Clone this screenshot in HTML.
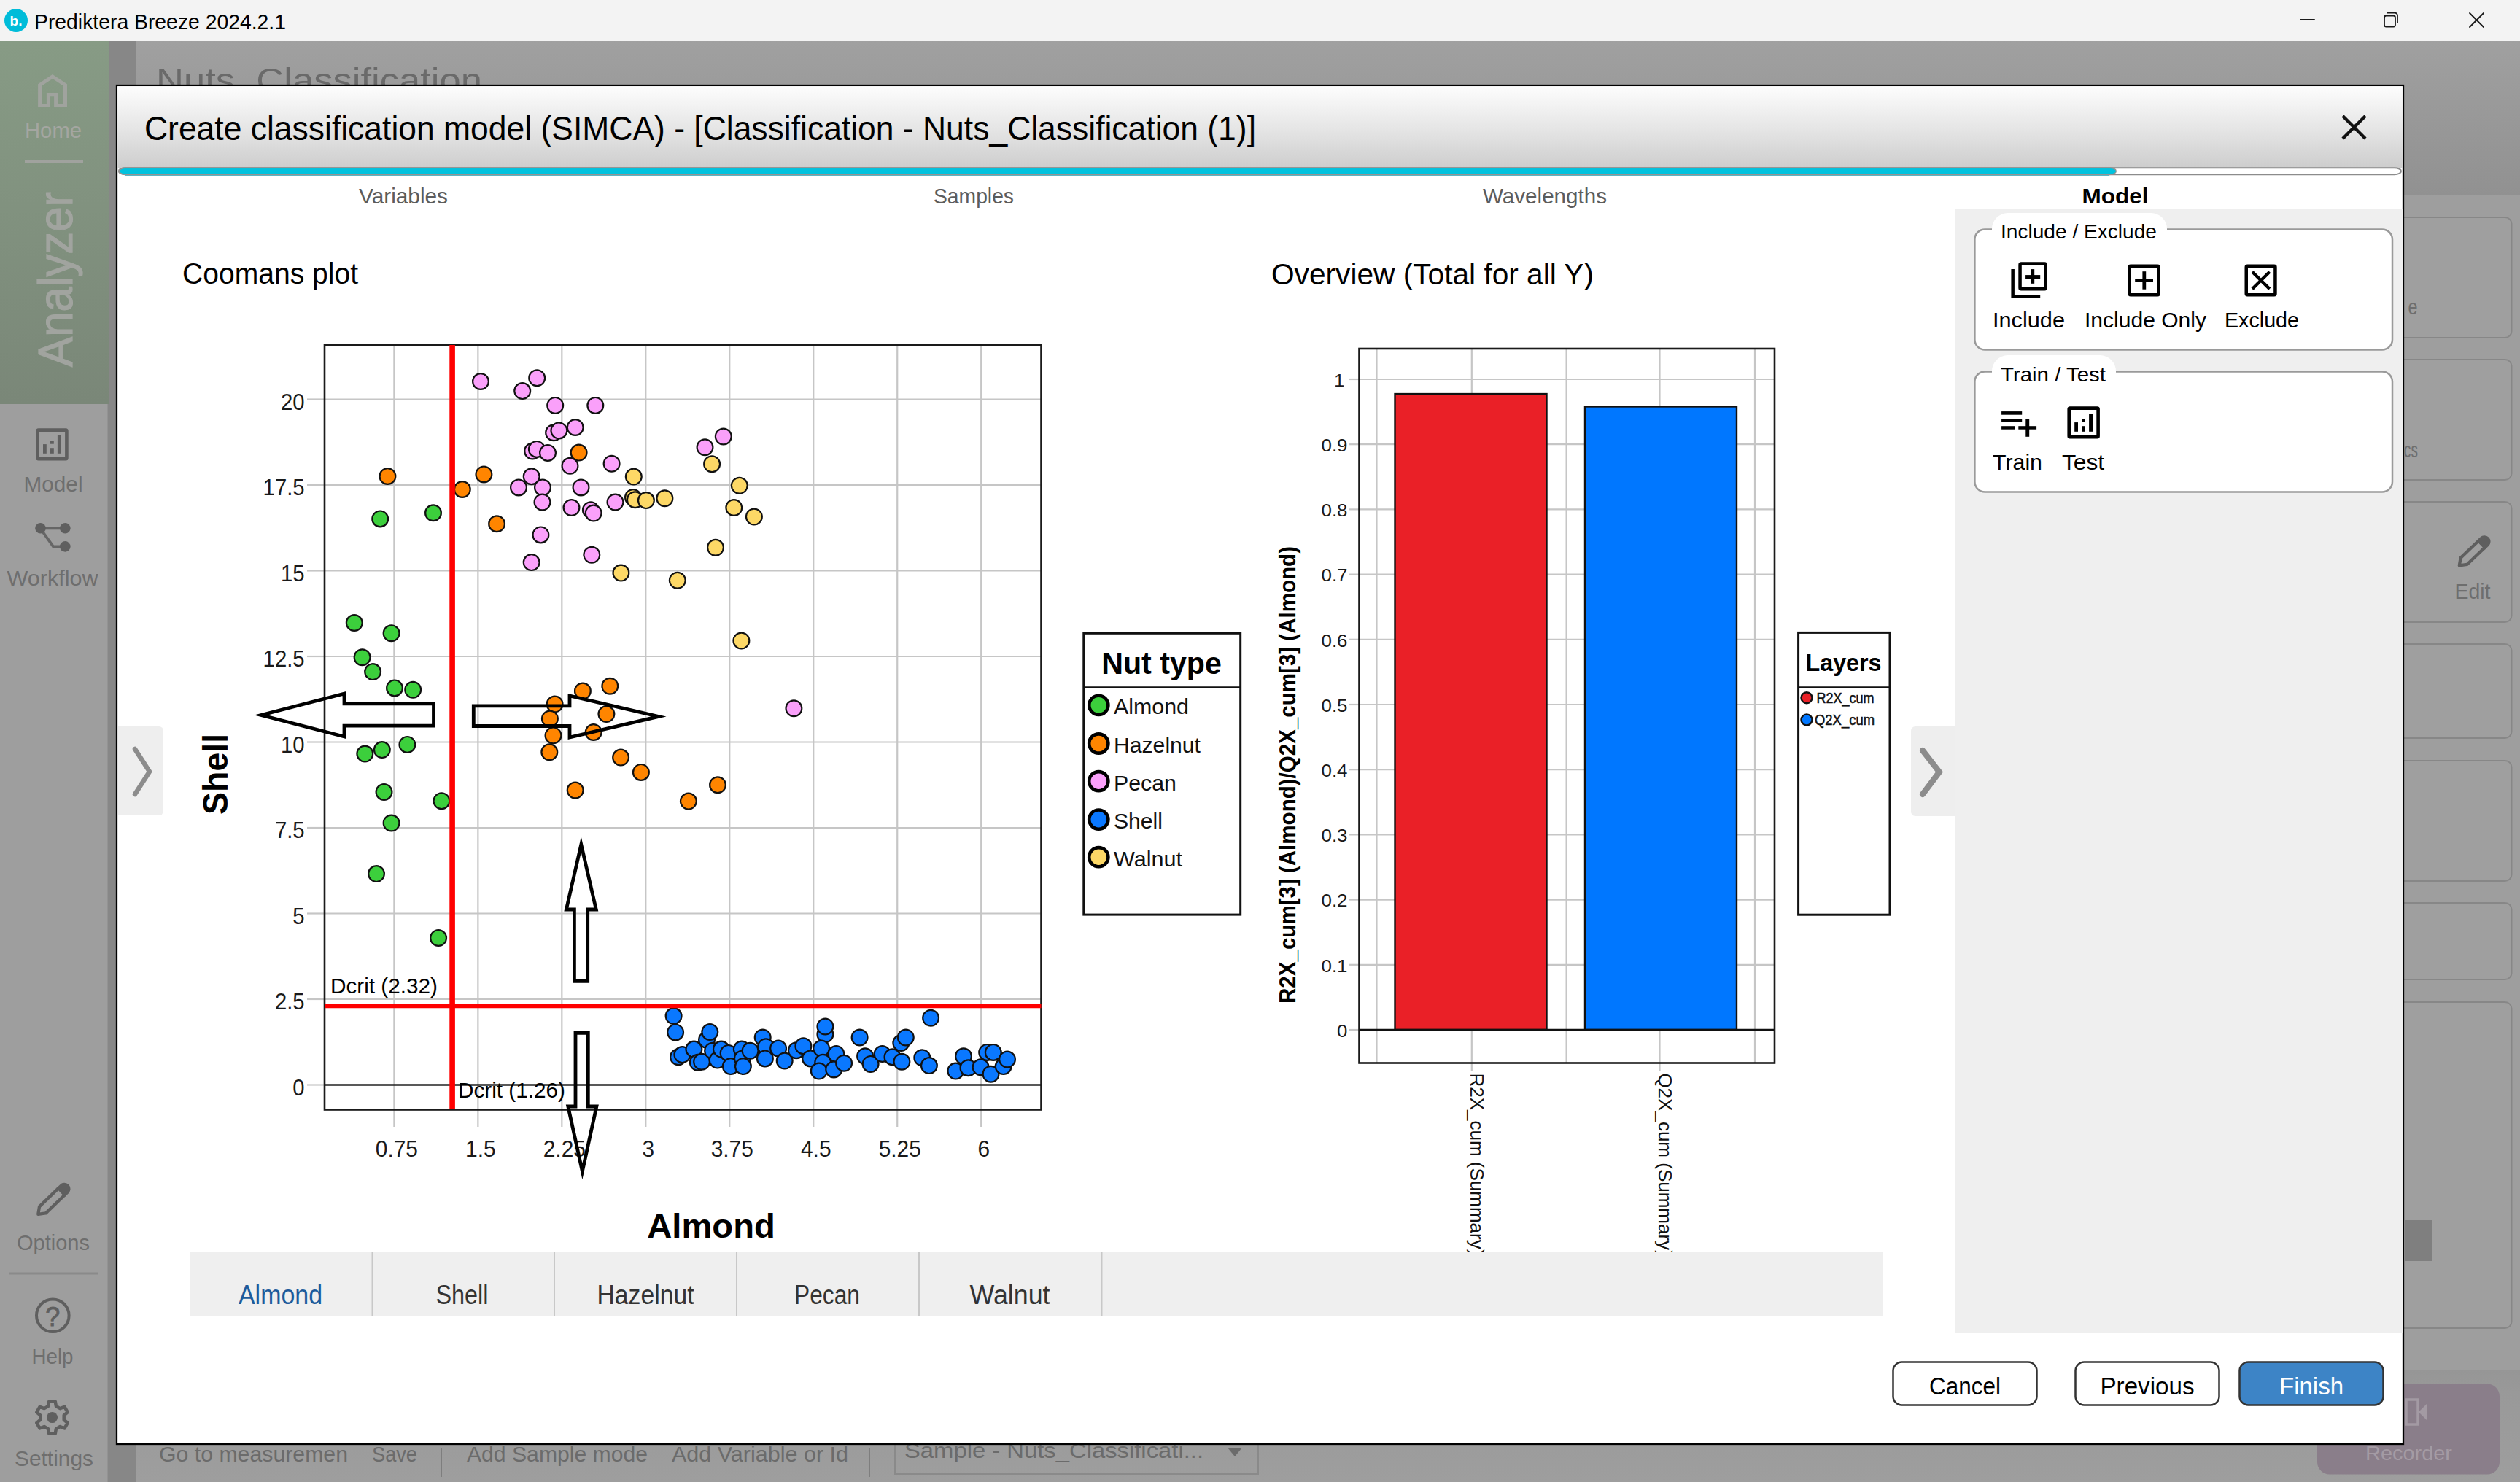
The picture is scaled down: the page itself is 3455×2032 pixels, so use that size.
<!DOCTYPE html>
<html lang="en"><head><meta charset="utf-8"><title>Prediktera Breeze 2024.2.1</title>
<style>
html,body{margin:0;padding:0;width:3455px;height:2032px;overflow:hidden;background:#9e9e9e;font-family:"Liberation Sans",sans-serif;}
#app{position:absolute;left:0;top:0;width:3455px;height:2032px;}
svg{position:absolute;left:0;top:0;display:block}
</style></head><body><div id="app">
<svg width="3455" height="2032" viewBox="0 0 3455 2032" font-family="Liberation Sans, sans-serif">
<defs>
<linearGradient id="side" x1="0" y1="0" x2="0" y2="1"><stop offset="0" stop-color="#879b85"/><stop offset="1" stop-color="#7a8778"/></linearGradient>
<linearGradient id="band" x1="0" y1="0" x2="0" y2="1"><stop offset="0" stop-color="#a0a0a0"/><stop offset="1" stop-color="#919191"/></linearGradient>
<linearGradient id="hdr" x1="0" y1="0" x2="0" y2="1"><stop offset="0" stop-color="#fdfdfd"/><stop offset="0.55" stop-color="#e4e4e4"/><stop offset="1" stop-color="#cdcdcd"/></linearGradient>
</defs>

<rect x="0" y="0" width="3455" height="2032" fill="#9e9e9e"/>
<rect x="186" y="56" width="3269" height="212" fill="url(#band)"/>
<rect x="0" y="0" width="3455" height="56" fill="#f3f3f3"/>
<circle cx="22" cy="28" r="16" fill="#00bcd9"/>
<text x="22" y="35" font-size="19" fill="#fff" font-weight="bold" text-anchor="middle">b.</text>
<text x="47" y="40" font-size="29.5" fill="#000" textLength="345" lengthAdjust="spacingAndGlyphs">Prediktera Breeze 2024.2.1</text>
<line x1="3154" y1="27" x2="3173" y2="27" stroke="#1a1a1a" stroke-width="2" stroke-linecap="round"/>
<rect x="3269" y="21.5" width="15" height="15" rx="2.5" fill="none" stroke="#1a1a1a" stroke-width="1.8"/>
<path d="M3273 17.5 h10 a4 4 0 0 1 4 4 v10" fill="none" stroke="#1a1a1a" stroke-width="1.8"/>
<line x1="3386" y1="18" x2="3405" y2="37" stroke="#1a1a1a" stroke-width="1.8" stroke-linecap="round"/>
<line x1="3405" y1="18" x2="3386" y2="37" stroke="#1a1a1a" stroke-width="1.8" stroke-linecap="round"/>
<rect x="0" y="554" width="149" height="1478" fill="#9e9e9e"/>
<rect x="147.5" y="56" width="39.5" height="1976" fill="#878787"/>
<rect x="0" y="56" width="149.2" height="498" fill="url(#side)"/>
<path d="M66.4 144.4 V129.8 H76.6 V144.4 H89.5 V116.5 L72 105 L54.6 116.5 V144.4 Z" fill="none" stroke="#a0a39e" stroke-width="5"/>
<text x="73" y="189" font-size="30" fill="#a4a6a1" text-anchor="middle" textLength="78" lengthAdjust="spacingAndGlyphs">Home</text>
<line x1="34" y1="221.5" x2="114" y2="221.5" stroke="#a0a29e" stroke-width="4.6" />
<text x="99" y="383" font-size="66" fill="#a1a49f" text-anchor="middle" textLength="240" lengthAdjust="spacingAndGlyphs" transform="rotate(-90 99 383)" stroke="#a1a49f" stroke-width="1.2">Analyzer</text>
<g transform="translate(-2785.2 30)"><rect x="2836.7" y="559.6" width="39.9" height="39.7" rx="1.2" fill="none" stroke="#5f5f5f" stroke-width="4.6"/><g fill="#5f5f5f"><rect x="2844.2" y="579.1" width="4.8" height="12.7"/><rect x="2854.1" y="574" width="4.9" height="4.7"/><rect x="2854.1" y="584.2" width="4.9" height="7.6"/><rect x="2864.1" y="567" width="4.9" height="24.8"/></g></g>
<text x="73" y="674" font-size="30" fill="#6e6e6e" text-anchor="middle" textLength="81" lengthAdjust="spacingAndGlyphs">Model</text>
<path d="M55.5 724.3 H89.3 M57 727 L73 749.4 H89.3" fill="none" stroke="#666" stroke-width="3.8"/><g fill="#5f5f5f"><circle cx="55.5" cy="724.3" r="7.3"/><circle cx="89.3" cy="724.3" r="7.3"/><circle cx="89.3" cy="749.4" r="7.3"/></g>
<text x="72" y="803" font-size="30" fill="#6e6e6e" text-anchor="middle" textLength="125" lengthAdjust="spacingAndGlyphs">Workflow</text>
<g transform="translate(50.5 1666.5) rotate(-43.96)"><path d="M2.5 0 L11 -6.3 L47.3 -6.3 L47.3 6.3 L11 6.3 Z" fill="none" stroke="#5f5f5f" stroke-width="4.3" stroke-linejoin="round"/><path d="M45.3 -8.4 L52.3 -8.4 A8.4 8.4 0 0 1 52.3 8.4 L45.3 8.4 Z" fill="#5f5f5f"/></g>
<text x="23" y="1714" font-size="30" fill="#6e6e6e" textLength="100" lengthAdjust="spacingAndGlyphs">Options</text>
<line x1="12" y1="1746" x2="134" y2="1746" stroke="#8a8a8a" stroke-width="3" />
<circle cx="72.3" cy="1803.8" r="22.3" fill="none" stroke="#5f5f5f" stroke-width="4"/>
<text x="72.3" y="1817.5" font-size="36" fill="#5f5f5f" text-anchor="middle" stroke="#5f5f5f" stroke-width="0.8">?</text>
<text x="72" y="1870" font-size="30" fill="#6e6e6e" text-anchor="middle" textLength="57" lengthAdjust="spacingAndGlyphs">Help</text>
<path d="M66.13 1928.00 L67.21 1921.51 L75.79 1921.51 L76.87 1928.00 L82.32 1931.15 L88.48 1928.84 L92.77 1936.27 L87.70 1940.45 L87.70 1946.75 L92.77 1950.93 L88.48 1958.36 L82.32 1956.05 L76.87 1959.20 L75.79 1965.69 L67.21 1965.69 L66.13 1959.20 L60.68 1956.05 L54.52 1958.36 L50.23 1950.93 L55.30 1946.75 L55.30 1940.45 L50.23 1936.27 L54.52 1928.84 L60.68 1931.15 Z" fill="none" stroke="#5f5f5f" stroke-width="4.5" stroke-linejoin="round"/>
<circle cx="71.5" cy="1943.6" r="7.5" fill="#5f5f5f"/>
<text x="20" y="2010" font-size="30" fill="#6e6e6e" textLength="108" lengthAdjust="spacingAndGlyphs">Settings</text>
<text x="214" y="125.5" font-size="47" fill="#6a6a6a" textLength="447" lengthAdjust="spacingAndGlyphs">Nuts_Classification</text>
<rect x="3230" y="298" width="213.5" height="165" rx="9" fill="#9f9f9f" stroke="#878787" stroke-width="2"/>
<rect x="3230" y="493" width="213.5" height="165" rx="9" fill="#9f9f9f" stroke="#878787" stroke-width="2"/>
<rect x="3230" y="688" width="213.5" height="165" rx="9" fill="#9f9f9f" stroke="#878787" stroke-width="2"/>
<rect x="3230" y="883" width="213.5" height="129" rx="9" fill="#9f9f9f" stroke="#878787" stroke-width="2"/>
<rect x="3230" y="1043" width="213.5" height="165" rx="9" fill="#9f9f9f" stroke="#878787" stroke-width="2"/>
<rect x="3230" y="1238" width="213.5" height="105" rx="9" fill="#9f9f9f" stroke="#878787" stroke-width="2"/>
<rect x="3230" y="1374" width="213.5" height="447" rx="9" fill="#9f9f9f" stroke="#878787" stroke-width="2"/>
<text x="3301.5" y="431.3" font-size="29" fill="#6e6e6e" textLength="13" lengthAdjust="spacingAndGlyphs">e</text>
<text x="3296" y="626.5" font-size="29" fill="#6e6e6e" textLength="19" lengthAdjust="spacingAndGlyphs">cs</text>
<g transform="translate(3370 777) rotate(-43.55)"><path d="M2.5 0 L11 -6.3 L44.9 -6.3 L44.9 6.3 L11 6.3 Z" fill="none" stroke="#5f5f5f" stroke-width="4.3" stroke-linejoin="round"/><path d="M42.9 -8.4 L49.9 -8.4 A8.4 8.4 0 0 1 49.9 8.4 L42.9 8.4 Z" fill="#5f5f5f"/></g>
<text x="3365.5" y="820.6" font-size="29" fill="#6e6e6e" textLength="49" lengthAdjust="spacingAndGlyphs">Edit</text>
<rect x="3297" y="1673" width="37" height="56" fill="#7f7f7f"/>
<linearGradient id="bb" x1="0" y1="0" x2="0" y2="1"><stop offset="0" stop-color="#969696"/><stop offset="0.2" stop-color="#999"/><stop offset="1" stop-color="#9e9e9e"/></linearGradient>
<rect x="187" y="1878.5" width="3268" height="154" fill="url(#bb)"/>
<rect x="3177" y="1897.5" width="250" height="124" rx="17" fill="#8a7e8a"/>
<rect x="3299" y="1919" width="16" height="34" fill="none" stroke="#a39aa3" stroke-width="3.5"/><path d="M3316 1936 L3327 1925 L3327 1947 Z" fill="#a39aa3"/>
<text x="3243" y="2001.6" font-size="28" fill="#a49ba4" textLength="119" lengthAdjust="spacingAndGlyphs">Recorder</text>
<text x="218" y="2003.5" font-size="29" fill="#6b6b6b" textLength="259" lengthAdjust="spacingAndGlyphs">Go to measuremen</text>
<text x="510" y="2003.5" font-size="29" fill="#6b6b6b" textLength="62" lengthAdjust="spacingAndGlyphs">Save</text>
<text x="640" y="2003.5" font-size="29" fill="#6b6b6b" textLength="248" lengthAdjust="spacingAndGlyphs">Add Sample mode</text>
<text x="921" y="2003.5" font-size="29" fill="#6b6b6b" textLength="242" lengthAdjust="spacingAndGlyphs">Add Variable or Id</text>
<line x1="605" y1="1985" x2="605" y2="2025" stroke="#7e7e7e" stroke-width="2" />
<line x1="1192" y1="1985" x2="1192" y2="2025" stroke="#7e7e7e" stroke-width="2" />
<rect x="1227" y="1975" width="498" height="46" fill="none" stroke="#8a8a8a" stroke-width="2"/>
<text x="1240" y="1998.5" font-size="30" fill="#6b6b6b" textLength="410" lengthAdjust="spacingAndGlyphs">Sample - Nuts_Classificati...</text>
<path d="M1683 1985 L1703 1985 L1693 1997 Z" fill="#6b6b6b"/>
<rect x="160" y="117" width="3135" height="1863" fill="#fff" stroke="#000" stroke-width="2.3"/>
<rect x="161.2" y="118.2" width="3132.6" height="112" fill="url(#hdr)"/>
<text x="198" y="192" font-size="46" fill="#000" textLength="1524" lengthAdjust="spacingAndGlyphs">Create classification model (SIMCA) - [Classification - Nuts_Classification (1)]</text>
<line x1="3212" y1="159" x2="3243" y2="190" stroke="#111" stroke-width="4.5" />
<line x1="3243" y1="159" x2="3212" y2="190" stroke="#111" stroke-width="4.5" />
<rect x="163" y="230.2" width="3129" height="9" rx="9" ry="4.5" fill="#fff" stroke="#8c8c8c" stroke-width="2"/>
<rect x="163" y="230.2" width="2738" height="9" rx="9" ry="4.5" fill="#00c2de" stroke="#939393" stroke-width="2"/>
<rect x="165" y="231.2" width="2736" height="7" rx="8" ry="3.5" fill="#00c2de"/>
<rect x="172" y="240.1" width="2720" height="1.1" fill="#4fb2c2"/>
<text x="553" y="279" font-size="30" fill="#5c5c5c" text-anchor="middle" textLength="122" lengthAdjust="spacingAndGlyphs">Variables</text>
<text x="1335" y="279" font-size="30" fill="#5c5c5c" text-anchor="middle" textLength="110" lengthAdjust="spacingAndGlyphs">Samples</text>
<text x="2118" y="279" font-size="30" fill="#5c5c5c" text-anchor="middle" textLength="170" lengthAdjust="spacingAndGlyphs">Wavelengths</text>
<text x="2900" y="279" font-size="30" fill="#000" font-weight="bold" text-anchor="middle" textLength="91" lengthAdjust="spacingAndGlyphs">Model</text>
<rect x="2681" y="286" width="613" height="1542" fill="#efefef"/>
<rect x="2707.4" y="314.4" width="572.6" height="165" rx="14" fill="#fff" stroke="#9a9a9a" stroke-width="2.5"/>
<rect x="2731" y="292" width="240" height="46" rx="22" fill="#fff"/>
<rect x="2731" y="317" width="240" height="30" fill="#fff"/>
<text x="2743" y="327" font-size="28" fill="#000" textLength="214" lengthAdjust="spacingAndGlyphs">Include / Exclude</text>
<rect x="2707.4" y="509.4" width="572.6" height="165" rx="14" fill="#fff" stroke="#9a9a9a" stroke-width="2.5"/>
<rect x="2731" y="487" width="170" height="46" rx="22" fill="#fff"/>
<rect x="2731" y="512" width="170" height="30" fill="#fff"/>
<text x="2743" y="522.7" font-size="28" fill="#000" textLength="144" lengthAdjust="spacingAndGlyphs">Train / Test</text>
<g fill="none" stroke="#000" stroke-width="4.5"><rect x="2769.55" y="361.55" width="35.2" height="34.8" rx="1.5"/><path d="M2759.65 369.1 V406.25 H2797.2" stroke-linejoin="miter"/></g>
<g fill="#000"><rect x="2784.4" y="369.1" width="4.8" height="19.7"/><rect x="2777.1" y="377.1" width="20.1" height="4.9"/></g>
<rect x="2919.65" y="364.65" width="39.9" height="39.6" rx="1.5" fill="none" stroke="#000" stroke-width="4.5"/>
<g fill="#000"><rect x="2937.4" y="372.2" width="4.8" height="24.5"/><rect x="2927.2" y="382" width="24.8" height="4.9"/></g>
<rect x="3079.75" y="364.65" width="39.7" height="39.6" rx="1.5" fill="none" stroke="#000" stroke-width="4.5"/>
<path d="M3089.5 374.3 L3110.2 394.6 M3110.2 374.3 L3089.5 394.6" stroke="#000" stroke-width="4.3" stroke-linecap="square"/>
<text x="2732" y="448.7" font-size="29" fill="#000" textLength="99" lengthAdjust="spacingAndGlyphs">Include</text>
<text x="2858" y="448.7" font-size="29" fill="#000" textLength="167" lengthAdjust="spacingAndGlyphs">Include Only</text>
<text x="3050" y="448.7" font-size="29" fill="#000" textLength="102" lengthAdjust="spacingAndGlyphs">Exclude</text>
<g fill="#000"><rect x="2744.1" y="564.1" width="28.1" height="4.6"/><rect x="2744.1" y="574.1" width="28.1" height="4.6"/><rect x="2744.1" y="584.2" width="18" height="4.5"/><rect x="2767.3" y="584.2" width="24.8" height="4.5"/><rect x="2777.3" y="574.1" width="4.9" height="24.7"/></g>
<g transform="translate(0 0)"><rect x="2836.7" y="559.6" width="39.9" height="39.7" rx="1.2" fill="none" stroke="#000" stroke-width="4.6"/><g fill="#000"><rect x="2844.2" y="579.1" width="4.8" height="12.7"/><rect x="2854.1" y="574" width="4.9" height="4.7"/><rect x="2854.1" y="584.2" width="4.9" height="7.6"/><rect x="2864.1" y="567" width="4.9" height="24.8"/></g></g>
<text x="2732" y="644" font-size="29" fill="#000" textLength="68" lengthAdjust="spacingAndGlyphs">Train</text>
<text x="2827" y="644" font-size="29" fill="#000" textLength="58" lengthAdjust="spacingAndGlyphs">Test</text>
<rect x="2595.5" y="1867.5" width="197" height="59" rx="12" fill="#fff" stroke="#333" stroke-width="2.5"/>
<text x="2694" y="1911.6" font-size="34" fill="#000" text-anchor="middle" textLength="98" lengthAdjust="spacingAndGlyphs">Cancel</text>
<rect x="2845.5" y="1867.5" width="197" height="59" rx="12" fill="#fff" stroke="#333" stroke-width="2.5"/>
<text x="2944" y="1911.6" font-size="34" fill="#000" text-anchor="middle" textLength="129" lengthAdjust="spacingAndGlyphs">Previous</text>
<rect x="3070.5" y="1867.5" width="197" height="59" rx="12" fill="#3d84c6" stroke="#333" stroke-width="2.5"/>
<text x="3169" y="1911.6" font-size="34" fill="#fff" text-anchor="middle" textLength="88" lengthAdjust="spacingAndGlyphs">Finish</text>
<rect x="261" y="1716" width="2320" height="88" fill="#efefef"/>
<line x1="510.5" y1="1716" x2="510.5" y2="1804" stroke="#c8c8c8" stroke-width="2" />
<line x1="760" y1="1716" x2="760" y2="1804" stroke="#c8c8c8" stroke-width="2" />
<line x1="1010" y1="1716" x2="1010" y2="1804" stroke="#c8c8c8" stroke-width="2" />
<line x1="1260" y1="1716" x2="1260" y2="1804" stroke="#c8c8c8" stroke-width="2" />
<line x1="1510.5" y1="1716" x2="1510.5" y2="1804" stroke="#c8c8c8" stroke-width="2" />
<text x="384.5" y="1787.7" font-size="37" fill="#1d5b9b" text-anchor="middle" textLength="115" lengthAdjust="spacingAndGlyphs">Almond</text>
<text x="633.5" y="1787.7" font-size="37" fill="#333" text-anchor="middle" textLength="72" lengthAdjust="spacingAndGlyphs">Shell</text>
<text x="885" y="1787.7" font-size="37" fill="#333" text-anchor="middle" textLength="133" lengthAdjust="spacingAndGlyphs">Hazelnut</text>
<text x="1134" y="1787.7" font-size="37" fill="#333" text-anchor="middle" textLength="90" lengthAdjust="spacingAndGlyphs">Pecan</text>
<text x="1384.5" y="1787.7" font-size="37" fill="#333" text-anchor="middle" textLength="110" lengthAdjust="spacingAndGlyphs">Walnut</text>
<path d="M162 996 H218 A6 6 0 0 1 224 1002 V1112 A6 6 0 0 1 218 1118 H162 Z" fill="#eeeeee"/>
<path d="M185 1027 L205 1058 L185 1089" fill="none" stroke="#8c8c8c" stroke-width="6.5" stroke-linecap="round"/>
<path d="M2681 996 H2626 A6 6 0 0 0 2620 1002 V1113 A6 6 0 0 0 2626 1119 H2681 Z" fill="#eeeeee"/>
<path d="M2636 1029 L2659 1058.5 L2636 1089" fill="none" stroke="#8c8c8c" stroke-width="8" stroke-linecap="round"/>
<text x="250" y="389" font-size="40" fill="#000" textLength="241" lengthAdjust="spacingAndGlyphs">Coomans plot</text>
<text x="1743" y="389.6" font-size="40" fill="#000" textLength="442" lengthAdjust="spacingAndGlyphs">Overview (Total for all Y)</text>
<line x1="540.375" y1="473" x2="540.375" y2="1521.5" stroke="#c6c6c6" stroke-width="2.2" />
<line x1="540.375" y1="1521.5" x2="540.375" y2="1545" stroke="#c6c6c6" stroke-width="2.2" />
<line x1="655.35" y1="473" x2="655.35" y2="1521.5" stroke="#c6c6c6" stroke-width="2.2" />
<line x1="655.35" y1="1521.5" x2="655.35" y2="1545" stroke="#c6c6c6" stroke-width="2.2" />
<line x1="770.325" y1="473" x2="770.325" y2="1521.5" stroke="#c6c6c6" stroke-width="2.2" />
<line x1="770.325" y1="1521.5" x2="770.325" y2="1545" stroke="#c6c6c6" stroke-width="2.2" />
<line x1="885.3" y1="473" x2="885.3" y2="1521.5" stroke="#c6c6c6" stroke-width="2.2" />
<line x1="885.3" y1="1521.5" x2="885.3" y2="1545" stroke="#c6c6c6" stroke-width="2.2" />
<line x1="1000.275" y1="473" x2="1000.275" y2="1521.5" stroke="#c6c6c6" stroke-width="2.2" />
<line x1="1000.275" y1="1521.5" x2="1000.275" y2="1545" stroke="#c6c6c6" stroke-width="2.2" />
<line x1="1115.25" y1="473" x2="1115.25" y2="1521.5" stroke="#c6c6c6" stroke-width="2.2" />
<line x1="1115.25" y1="1521.5" x2="1115.25" y2="1545" stroke="#c6c6c6" stroke-width="2.2" />
<line x1="1230.225" y1="473" x2="1230.225" y2="1521.5" stroke="#c6c6c6" stroke-width="2.2" />
<line x1="1230.225" y1="1521.5" x2="1230.225" y2="1545" stroke="#c6c6c6" stroke-width="2.2" />
<line x1="1345.2" y1="473" x2="1345.2" y2="1521.5" stroke="#c6c6c6" stroke-width="2.2" />
<line x1="1345.2" y1="1521.5" x2="1345.2" y2="1545" stroke="#c6c6c6" stroke-width="2.2" />
<line x1="445" y1="1370.0" x2="1427.5" y2="1370.0" stroke="#c6c6c6" stroke-width="2.2" />
<line x1="421" y1="1370.0" x2="445" y2="1370.0" stroke="#c6c6c6" stroke-width="2.2" />
<line x1="445" y1="1252.5" x2="1427.5" y2="1252.5" stroke="#c6c6c6" stroke-width="2.2" />
<line x1="421" y1="1252.5" x2="445" y2="1252.5" stroke="#c6c6c6" stroke-width="2.2" />
<line x1="445" y1="1135.0" x2="1427.5" y2="1135.0" stroke="#c6c6c6" stroke-width="2.2" />
<line x1="421" y1="1135.0" x2="445" y2="1135.0" stroke="#c6c6c6" stroke-width="2.2" />
<line x1="445" y1="1017.5" x2="1427.5" y2="1017.5" stroke="#c6c6c6" stroke-width="2.2" />
<line x1="421" y1="1017.5" x2="445" y2="1017.5" stroke="#c6c6c6" stroke-width="2.2" />
<line x1="445" y1="900.0" x2="1427.5" y2="900.0" stroke="#c6c6c6" stroke-width="2.2" />
<line x1="421" y1="900.0" x2="445" y2="900.0" stroke="#c6c6c6" stroke-width="2.2" />
<line x1="445" y1="782.5" x2="1427.5" y2="782.5" stroke="#c6c6c6" stroke-width="2.2" />
<line x1="421" y1="782.5" x2="445" y2="782.5" stroke="#c6c6c6" stroke-width="2.2" />
<line x1="445" y1="665.0" x2="1427.5" y2="665.0" stroke="#c6c6c6" stroke-width="2.2" />
<line x1="421" y1="665.0" x2="445" y2="665.0" stroke="#c6c6c6" stroke-width="2.2" />
<line x1="445" y1="547.5" x2="1427.5" y2="547.5" stroke="#c6c6c6" stroke-width="2.2" />
<line x1="421" y1="547.5" x2="445" y2="547.5" stroke="#c6c6c6" stroke-width="2.2" />
<line x1="421" y1="1487.5" x2="445" y2="1487.5" stroke="#c6c6c6" stroke-width="2.2" />
<line x1="445" y1="1487.5" x2="1427.5" y2="1487.5" stroke="#222" stroke-width="2.5" />
<text x="543.875" y="1586" font-size="31.5" fill="#1a1a1a" text-anchor="middle" textLength="58.2" lengthAdjust="spacingAndGlyphs">0.75</text>
<text x="658.85" y="1586" font-size="31.5" fill="#1a1a1a" text-anchor="middle" textLength="41.6" lengthAdjust="spacingAndGlyphs">1.5</text>
<text x="773.825" y="1586" font-size="31.5" fill="#1a1a1a" text-anchor="middle" textLength="58.2" lengthAdjust="spacingAndGlyphs">2.25</text>
<text x="888.8" y="1586" font-size="31.5" fill="#1a1a1a" text-anchor="middle" textLength="16.6" lengthAdjust="spacingAndGlyphs">3</text>
<text x="1003.775" y="1586" font-size="31.5" fill="#1a1a1a" text-anchor="middle" textLength="58.2" lengthAdjust="spacingAndGlyphs">3.75</text>
<text x="1118.75" y="1586" font-size="31.5" fill="#1a1a1a" text-anchor="middle" textLength="41.6" lengthAdjust="spacingAndGlyphs">4.5</text>
<text x="1233.725" y="1586" font-size="31.5" fill="#1a1a1a" text-anchor="middle" textLength="58.2" lengthAdjust="spacingAndGlyphs">5.25</text>
<text x="1348.7" y="1586" font-size="31.5" fill="#1a1a1a" text-anchor="middle" textLength="16.6" lengthAdjust="spacingAndGlyphs">6</text>
<text x="417.6" y="1501.7" font-size="31.5" fill="#1a1a1a" text-anchor="end" textLength="16.3" lengthAdjust="spacingAndGlyphs">0</text>
<text x="417.6" y="1384.2" font-size="31.5" fill="#1a1a1a" text-anchor="end" textLength="40.7" lengthAdjust="spacingAndGlyphs">2.5</text>
<text x="417.6" y="1266.7" font-size="31.5" fill="#1a1a1a" text-anchor="end" textLength="16.3" lengthAdjust="spacingAndGlyphs">5</text>
<text x="417.6" y="1149.2" font-size="31.5" fill="#1a1a1a" text-anchor="end" textLength="40.7" lengthAdjust="spacingAndGlyphs">7.5</text>
<text x="417.6" y="1031.7" font-size="31.5" fill="#1a1a1a" text-anchor="end" textLength="32.6" lengthAdjust="spacingAndGlyphs">10</text>
<text x="417.6" y="914.2" font-size="31.5" fill="#1a1a1a" text-anchor="end" textLength="57.0" lengthAdjust="spacingAndGlyphs">12.5</text>
<text x="417.6" y="796.7" font-size="31.5" fill="#1a1a1a" text-anchor="end" textLength="32.6" lengthAdjust="spacingAndGlyphs">15</text>
<text x="417.6" y="679.2" font-size="31.5" fill="#1a1a1a" text-anchor="end" textLength="57.0" lengthAdjust="spacingAndGlyphs">17.5</text>
<text x="417.6" y="561.7" font-size="31.5" fill="#1a1a1a" text-anchor="end" textLength="32.6" lengthAdjust="spacingAndGlyphs">20</text>
<text x="975" y="1697.4" font-size="45.5" fill="#000" font-weight="bold" text-anchor="middle" textLength="175.5" lengthAdjust="spacingAndGlyphs">Almond</text>
<text x="312.2" y="1061.4" font-size="48.5" fill="#000" font-weight="bold" text-anchor="middle" textLength="111" lengthAdjust="spacingAndGlyphs" transform="rotate(-90 312.2 1061.4)">Shell</text>
<g fill="#fdd866" stroke="#111" stroke-width="2.2"><circle cx="868.8" cy="653.6" r="10.9"/><circle cx="976.1" cy="636.2" r="10.9"/><circle cx="1013.8" cy="665.8" r="10.9"/><circle cx="868" cy="682" r="10.9"/><circle cx="870.8" cy="685.3" r="10.9"/><circle cx="885.9" cy="686.1" r="10.9"/><circle cx="911.4" cy="683.2" r="10.9"/><circle cx="1006.3" cy="696" r="10.9"/><circle cx="1033.9" cy="708.5" r="10.9"/><circle cx="981" cy="750.8" r="10.9"/><circle cx="851.4" cy="785.6" r="10.9"/><circle cx="928.8" cy="795.8" r="10.9"/><circle cx="1016.4" cy="878.5" r="10.9"/></g>
<g fill="#faa0fa" stroke="#111" stroke-width="2.2"><circle cx="659" cy="523" r="10.9"/><circle cx="736.2" cy="518.2" r="10.9"/><circle cx="716.2" cy="536.1" r="10.9"/><circle cx="761.2" cy="555.9" r="10.9"/><circle cx="816.3" cy="555.9" r="10.9"/><circle cx="759.1" cy="593.3" r="10.9"/><circle cx="766.4" cy="590.4" r="10.9"/><circle cx="788.7" cy="586" r="10.9"/><circle cx="730.1" cy="618.5" r="10.9"/><circle cx="735.9" cy="615.9" r="10.9"/><circle cx="751" cy="620.9" r="10.9"/><circle cx="781.5" cy="638.8" r="10.9"/><circle cx="838.6" cy="635.7" r="10.9"/><circle cx="728.7" cy="653.3" r="10.9"/><circle cx="711" cy="668.4" r="10.9"/><circle cx="744" cy="668.4" r="10.9"/><circle cx="796.5" cy="668.4" r="10.9"/><circle cx="743.5" cy="688.5" r="10.9"/><circle cx="783.5" cy="696" r="10.9"/><circle cx="809.9" cy="699.2" r="10.9"/><circle cx="813.7" cy="703.5" r="10.9"/><circle cx="843.5" cy="688.5" r="10.9"/><circle cx="741.4" cy="733.4" r="10.9"/><circle cx="728.7" cy="771.1" r="10.9"/><circle cx="811.3" cy="760.7" r="10.9"/><circle cx="966.5" cy="613.3" r="10.9"/><circle cx="991.8" cy="598.5" r="10.9"/><circle cx="1088.4" cy="971.3" r="10.9"/></g>
<g fill="#ff8500" stroke="#111" stroke-width="2.2"><circle cx="793.6" cy="620.6" r="10.9"/><circle cx="531.4" cy="653" r="10.9"/><circle cx="663.4" cy="650.4" r="10.9"/><circle cx="633.8" cy="671" r="10.9"/><circle cx="681.1" cy="718.3" r="10.9"/><circle cx="798.9" cy="947.5" r="10.9"/><circle cx="836.3" cy="940.8" r="10.9"/><circle cx="760.6" cy="965.5" r="10.9"/><circle cx="831.4" cy="979.1" r="10.9"/><circle cx="753.9" cy="985.5" r="10.9"/><circle cx="813.7" cy="1004" r="10.9"/><circle cx="758.5" cy="1008.4" r="10.9"/><circle cx="753.3" cy="1031.3" r="10.9"/><circle cx="851.1" cy="1038.6" r="10.9"/><circle cx="878.9" cy="1058.9" r="10.9"/><circle cx="788.7" cy="1083.5" r="10.9"/><circle cx="984" cy="1076.3" r="10.9"/><circle cx="943.9" cy="1098.6" r="10.9"/></g>
<g fill="#3ccf3c" stroke="#111" stroke-width="2.2"><circle cx="521.2" cy="711.4" r="10.9"/><circle cx="594" cy="703.2" r="10.9"/><circle cx="485.8" cy="854" r="10.9"/><circle cx="536.6" cy="868.3" r="10.9"/><circle cx="496.6" cy="901.3" r="10.9"/><circle cx="511.1" cy="921.1" r="10.9"/><circle cx="541" cy="943.4" r="10.9"/><circle cx="566.2" cy="945.7" r="10.9"/><circle cx="500.3" cy="1033.6" r="10.9"/><circle cx="523.8" cy="1028.1" r="10.9"/><circle cx="558.4" cy="1020.9" r="10.9"/><circle cx="526.5" cy="1085.9" r="10.9"/><circle cx="605.4" cy="1098.3" r="10.9"/><circle cx="536.6" cy="1128.5" r="10.9"/><circle cx="516" cy="1198.1" r="10.9"/><circle cx="601.1" cy="1286" r="10.9"/></g>
<g fill="#0a78ff" stroke="#111" stroke-width="2.2"><circle cx="923.6" cy="1393.1" r="10.9"/><circle cx="926.1" cy="1415.4" r="10.9"/><circle cx="969" cy="1425.7" r="10.9"/><circle cx="973.3" cy="1415" r="10.9"/><circle cx="930" cy="1449.3" r="10.9"/><circle cx="935.4" cy="1446.1" r="10.9"/><circle cx="951.4" cy="1438.6" r="10.9"/><circle cx="956.8" cy="1456.8" r="10.9"/><circle cx="962.1" cy="1455.7" r="10.9"/><circle cx="977.1" cy="1440.7" r="10.9"/><circle cx="983.6" cy="1453.6" r="10.9"/><circle cx="988.9" cy="1438.6" r="10.9"/><circle cx="998.6" cy="1443.9" r="10.9"/><circle cx="1001.8" cy="1462.1" r="10.9"/><circle cx="1016.8" cy="1438.6" r="10.9"/><circle cx="1017.9" cy="1451.4" r="10.9"/><circle cx="1018.9" cy="1462.1" r="10.9"/><circle cx="1028.6" cy="1440.7" r="10.9"/><circle cx="1045.7" cy="1422.5" r="10.9"/><circle cx="1050" cy="1435.3" r="10.9"/><circle cx="1048.9" cy="1451.4" r="10.9"/><circle cx="1067.1" cy="1437.5" r="10.9"/><circle cx="1075.7" cy="1454.6" r="10.9"/><circle cx="1091.8" cy="1440.3" r="10.9"/><circle cx="1101.4" cy="1434.3" r="10.9"/><circle cx="1111.1" cy="1451.4" r="10.9"/><circle cx="1131.4" cy="1418.2" r="10.9"/><circle cx="1131.4" cy="1407.5" r="10.9"/><circle cx="1126.1" cy="1437.5" r="10.9"/><circle cx="1128.2" cy="1456.8" r="10.9"/><circle cx="1122.8" cy="1468.6" r="10.9"/><circle cx="1146.4" cy="1445" r="10.9"/><circle cx="1143.2" cy="1466.4" r="10.9"/><circle cx="1157.1" cy="1457.8" r="10.9"/><circle cx="1178.6" cy="1422.5" r="10.9"/><circle cx="1186.1" cy="1448.2" r="10.9"/><circle cx="1193.6" cy="1458.9" r="10.9"/><circle cx="1209.6" cy="1445" r="10.9"/><circle cx="1223.5" cy="1449.3" r="10.9"/><circle cx="1235.3" cy="1430" r="10.9"/><circle cx="1241.8" cy="1422.5" r="10.9"/><circle cx="1236.4" cy="1455.7" r="10.9"/><circle cx="1264.3" cy="1450.3" r="10.9"/><circle cx="1273.9" cy="1461.1" r="10.9"/><circle cx="1276.1" cy="1395.7" r="10.9"/><circle cx="1310.3" cy="1468.6" r="10.9"/><circle cx="1321" cy="1448.2" r="10.9"/><circle cx="1327.5" cy="1464.3" r="10.9"/><circle cx="1344.6" cy="1463.2" r="10.9"/><circle cx="1353.2" cy="1442.9" r="10.9"/><circle cx="1361.8" cy="1442.9" r="10.9"/><circle cx="1358.5" cy="1472.8" r="10.9"/><circle cx="1375.7" cy="1462.1" r="10.9"/><circle cx="1381" cy="1452.5" r="10.9"/></g>
<rect x="445" y="473" width="982.5" height="1048.5" fill="none" stroke="#1a1a1a" stroke-width="2.6"/>
<line x1="620.1" y1="473" x2="620.1" y2="1520.5" stroke="#ff0000" stroke-width="7.6" />
<line x1="445" y1="1379.6" x2="1427.5" y2="1379.6" stroke="#ff0000" stroke-width="5.2" />
<text x="453" y="1362" font-size="29.5" fill="#000" textLength="147" lengthAdjust="spacingAndGlyphs">Dcrit (2.32)</text>
<text x="628" y="1504.5" font-size="29.5" fill="#000" textLength="147" lengthAdjust="spacingAndGlyphs">Dcrit (1.26)</text>
<g fill="none" stroke="#000" stroke-width="4.8" stroke-linejoin="miter" stroke-miterlimit="10"><path d="M594.5 964.8 L472 964.8 L472 951 L358 980.5 L472 1010 L472 995.2 L594.5 995.2 Z"/><path d="M649.3 967.9 L781 967.9 L781 954 L903 982.4 L781 1011 L781 995.5 L649.3 995.5 Z"/><path d="M787.4 1345.3 L787.4 1247 L776.4 1247 L796.8 1158 L817.3 1247 L805.7 1247 L805.7 1345.3 Z"/><path d="M789 1416.4 L806.3 1416.4 L806.3 1517 L817.9 1517 L798.4 1606 L778.8 1517 L789 1517 Z"/></g>
<rect x="1485.8" y="868.3" width="214.9" height="385.8" fill="#fff" stroke="#111" stroke-width="3"/>
<line x1="1485.8" y1="942.5" x2="1700.7" y2="942.5" stroke="#111" stroke-width="2.6" />
<text x="1592.5" y="924.3" font-size="42" fill="#000" font-weight="bold" text-anchor="middle" textLength="164.5" lengthAdjust="spacingAndGlyphs">Nut type</text>
<circle cx="1506.3" cy="966.8" r="13.1" fill="#3ccf3c" stroke="#000" stroke-width="4.6"/>
<text x="1527" y="979.4" font-size="30" fill="#111" textLength="103" lengthAdjust="spacingAndGlyphs">Almond</text>
<circle cx="1506.3" cy="1019.5" r="13.1" fill="#ff8500" stroke="#000" stroke-width="4.6"/>
<text x="1527" y="1032.1" font-size="30" fill="#111" textLength="119" lengthAdjust="spacingAndGlyphs">Hazelnut</text>
<circle cx="1506.3" cy="1071.2" r="13.1" fill="#faa0fa" stroke="#000" stroke-width="4.6"/>
<text x="1527" y="1083.8" font-size="30" fill="#111" textLength="86" lengthAdjust="spacingAndGlyphs">Pecan</text>
<circle cx="1506.3" cy="1123.6" r="13.1" fill="#0a78ff" stroke="#000" stroke-width="4.6"/>
<text x="1527" y="1136.1999999999998" font-size="30" fill="#111" textLength="67" lengthAdjust="spacingAndGlyphs">Shell</text>
<circle cx="1506.3" cy="1175.2" r="13.1" fill="#fdd866" stroke="#000" stroke-width="4.6"/>
<text x="1527" y="1187.8" font-size="30" fill="#111" textLength="94" lengthAdjust="spacingAndGlyphs">Walnut</text>
<line x1="1887.5" y1="478" x2="1887.5" y2="1457.5" stroke="#c6c6c6" stroke-width="2.2" />
<line x1="2017.8" y1="478" x2="2017.8" y2="1457.5" stroke="#c6c6c6" stroke-width="2.2" />
<line x1="2147.6" y1="478" x2="2147.6" y2="1457.5" stroke="#c6c6c6" stroke-width="2.2" />
<line x1="2275.5" y1="478" x2="2275.5" y2="1457.5" stroke="#c6c6c6" stroke-width="2.2" />
<line x1="2406" y1="478" x2="2406" y2="1457.5" stroke="#c6c6c6" stroke-width="2.2" />
<line x1="1849" y1="1412.0" x2="1863.5" y2="1412.0" stroke="#c6c6c6" stroke-width="2.2" />
<line x1="1849" y1="1322.8" x2="1863.5" y2="1322.8" stroke="#c6c6c6" stroke-width="2.2" />
<line x1="1863.5" y1="1322.8" x2="2433" y2="1322.8" stroke="#c6c6c6" stroke-width="2.2" />
<line x1="1849" y1="1233.6" x2="1863.5" y2="1233.6" stroke="#c6c6c6" stroke-width="2.2" />
<line x1="1863.5" y1="1233.6" x2="2433" y2="1233.6" stroke="#c6c6c6" stroke-width="2.2" />
<line x1="1849" y1="1144.4" x2="1863.5" y2="1144.4" stroke="#c6c6c6" stroke-width="2.2" />
<line x1="1863.5" y1="1144.4" x2="2433" y2="1144.4" stroke="#c6c6c6" stroke-width="2.2" />
<line x1="1849" y1="1055.2" x2="1863.5" y2="1055.2" stroke="#c6c6c6" stroke-width="2.2" />
<line x1="1863.5" y1="1055.2" x2="2433" y2="1055.2" stroke="#c6c6c6" stroke-width="2.2" />
<line x1="1849" y1="966.0" x2="1863.5" y2="966.0" stroke="#c6c6c6" stroke-width="2.2" />
<line x1="1863.5" y1="966.0" x2="2433" y2="966.0" stroke="#c6c6c6" stroke-width="2.2" />
<line x1="1849" y1="876.8000000000001" x2="1863.5" y2="876.8000000000001" stroke="#c6c6c6" stroke-width="2.2" />
<line x1="1863.5" y1="876.8000000000001" x2="2433" y2="876.8000000000001" stroke="#c6c6c6" stroke-width="2.2" />
<line x1="1849" y1="787.6" x2="1863.5" y2="787.6" stroke="#c6c6c6" stroke-width="2.2" />
<line x1="1863.5" y1="787.6" x2="2433" y2="787.6" stroke="#c6c6c6" stroke-width="2.2" />
<line x1="1849" y1="698.4" x2="1863.5" y2="698.4" stroke="#c6c6c6" stroke-width="2.2" />
<line x1="1863.5" y1="698.4" x2="2433" y2="698.4" stroke="#c6c6c6" stroke-width="2.2" />
<line x1="1849" y1="609.1999999999999" x2="1863.5" y2="609.1999999999999" stroke="#c6c6c6" stroke-width="2.2" />
<line x1="1863.5" y1="609.1999999999999" x2="2433" y2="609.1999999999999" stroke="#c6c6c6" stroke-width="2.2" />
<line x1="1849" y1="520.0" x2="1863.5" y2="520.0" stroke="#c6c6c6" stroke-width="2.2" />
<line x1="1863.5" y1="520.0" x2="2433" y2="520.0" stroke="#c6c6c6" stroke-width="2.2" />
<line x1="2017.8" y1="1457.5" x2="2017.8" y2="1468" stroke="#c6c6c6" stroke-width="2.2" />
<line x1="2275.5" y1="1457.5" x2="2275.5" y2="1468" stroke="#c6c6c6" stroke-width="2.2" />
<rect x="1912.5" y="540.0699999999999" width="208" height="871.9300000000001" fill="#ea2027" stroke="#111" stroke-width="2.4"/>
<rect x="2173" y="557.464" width="208" height="854.536" fill="#0077ff" stroke="#111" stroke-width="2.4"/>
<line x1="1863.5" y1="1412" x2="2433" y2="1412" stroke="#111" stroke-width="2.5" />
<rect x="1863.5" y="478" width="569.5" height="979.5" fill="none" stroke="#1a1a1a" stroke-width="2.6"/>
<text x="1847.5" y="1421.8" font-size="24" fill="#1a1a1a" text-anchor="end" textLength="14.4" lengthAdjust="spacingAndGlyphs">0</text>
<text x="1847.5" y="1332.6" font-size="24" fill="#1a1a1a" text-anchor="end" textLength="36.0" lengthAdjust="spacingAndGlyphs">0.1</text>
<text x="1847.5" y="1243.3999999999999" font-size="24" fill="#1a1a1a" text-anchor="end" textLength="36.0" lengthAdjust="spacingAndGlyphs">0.2</text>
<text x="1847.5" y="1154.2" font-size="24" fill="#1a1a1a" text-anchor="end" textLength="36.0" lengthAdjust="spacingAndGlyphs">0.3</text>
<text x="1847.5" y="1065.0" font-size="24" fill="#1a1a1a" text-anchor="end" textLength="36.0" lengthAdjust="spacingAndGlyphs">0.4</text>
<text x="1847.5" y="975.8" font-size="24" fill="#1a1a1a" text-anchor="end" textLength="36.0" lengthAdjust="spacingAndGlyphs">0.5</text>
<text x="1847.5" y="886.6" font-size="24" fill="#1a1a1a" text-anchor="end" textLength="36.0" lengthAdjust="spacingAndGlyphs">0.6</text>
<text x="1847.5" y="797.4" font-size="24" fill="#1a1a1a" text-anchor="end" textLength="36.0" lengthAdjust="spacingAndGlyphs">0.7</text>
<text x="1847.5" y="708.1999999999999" font-size="24" fill="#1a1a1a" text-anchor="end" textLength="36.0" lengthAdjust="spacingAndGlyphs">0.8</text>
<text x="1847.5" y="618.9999999999999" font-size="24" fill="#1a1a1a" text-anchor="end" textLength="36.0" lengthAdjust="spacingAndGlyphs">0.9</text>
<text x="1843.5" y="529.8" font-size="24" fill="#1a1a1a" text-anchor="end" textLength="14.4" lengthAdjust="spacingAndGlyphs">1</text>
<text x="1776.4" y="1062.5" font-size="30.5" fill="#000" font-weight="bold" text-anchor="middle" textLength="627" lengthAdjust="spacingAndGlyphs" transform="rotate(-90 1776.4 1062.5)">R2X_cum[3] (Almond)/Q2X_cum[3] (Almond)</text>
<svg x="1900" y="1460" width="600" height="256" overflow="hidden">
<text x="0" y="0" font-size="26" fill="#111" transform="translate(116.3 11.4) rotate(90)">R2X_cum (Summary)</text>
<text x="0" y="0" font-size="26" fill="#111" transform="translate(374 11.4) rotate(90)">Q2X_cum (Summary)</text>
</svg>
<rect x="2465.6" y="867.4" width="125.4" height="386.8" fill="#fff" stroke="#111" stroke-width="3"/>
<line x1="2465.6" y1="942.4" x2="2591" y2="942.4" stroke="#111" stroke-width="2.5" />
<text x="2527.5" y="919.5" font-size="34" fill="#000" font-weight="bold" text-anchor="middle" textLength="104" lengthAdjust="spacingAndGlyphs">Layers</text>
<circle cx="2477" cy="956.7" r="7.5" fill="#ea2027" stroke="#111" stroke-width="2.4"/>
<circle cx="2477" cy="986.9" r="7.5" fill="#0077ff" stroke="#111" stroke-width="2.4"/>
<text x="2490.5" y="963.5" font-size="19.5" fill="#111" textLength="79" lengthAdjust="spacingAndGlyphs" stroke="#111" stroke-width="0.5">R2X_cum</text>
<text x="2488" y="993.7" font-size="19.5" fill="#111" textLength="82" lengthAdjust="spacingAndGlyphs" stroke="#111" stroke-width="0.5">Q2X_cum</text>
</svg>
</div></body></html>
